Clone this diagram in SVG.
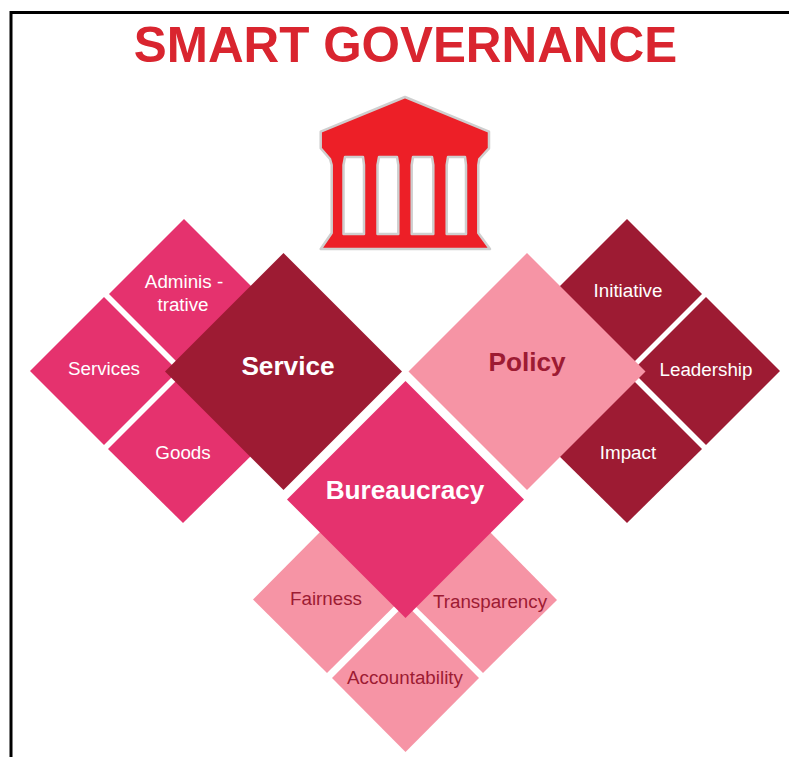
<svg xmlns="http://www.w3.org/2000/svg" width="789" height="757" viewBox="0 0 789 757">
<style>
.a{fill:#e5326e}.b{fill:#9d1b33}.c{fill:#f694a5}
text{font-family:"Liberation Sans",Arial,sans-serif;text-anchor:middle}
.s{font-size:18.800px}.l{font-size:26.200px;font-weight:bold}
.w{fill:#fff}.d{fill:#9d1b33}
</style>
<rect width="789" height="757" fill="#fff"/>
<path d="M11 757V12.500H789" fill="none" stroke="#000" stroke-width="3"/>
<text id="title" x="405.500" y="62" font-size="49.400" font-weight="bold" fill="#d9252f">SMART GOVERNANCE</text>
<g id="temple">
<path d="M405 97L489 131.700V148.300L479.300 159L478.300 165V233L490 249H320.700L331.700 233V165L330 159L320.700 148.300V131.700ZM345 157L343.500 165V234H364V165L363 157ZM379 157L377.500 165V234H398.300V165L397 157ZM413 157L411.700 165V234H433.300V165L432 157ZM448 157L446.700 165V234H466V165L465 157Z" fill="#ed1f27" fill-rule="evenodd" stroke="#cfcfcf" stroke-width="2.500" stroke-linejoin="round"/>
</g>
<g id="connectors"></g>
<g id="administrative"><path class="a" d="M184 219L259 294L184 369L109 294Z"/><text class="s w" x="184" y="288">Adminis -</text><text class="s w" x="183" y="311">trative</text></g>
<g id="services"><path class="a" d="M104 297L178 371L104 445L30 371Z"/><text class="s w" x="104" y="375">Services</text></g>
<g id="goods"><path class="a" d="M183 374L258 449L183 523L108 449Z"/><text class="s w" x="183" y="459">Goods</text></g>
<g id="service"><path class="b" d="M283.500 253L402 371.500L283.500 490L165 371.500Z"/><text class="l w" x="288" y="375">Service</text></g>
<g id="initiative"><path class="b" d="M627 219L702 294L627 369L552 294Z"/><text class="s w" x="628" y="297">Initiative</text></g>
<g id="leadership"><path class="b" d="M706 297L780 371L706 445L632 371Z"/><text class="s w" x="706" y="376">Leadership</text></g>
<g id="impact"><path class="b" d="M627 374L702 449L627 523L552 449Z"/><text class="s w" x="628" y="459">Impact</text></g>
<g id="policy"><path class="c" d="M527 253L645.500 371.500L527 490L408.500 371.500Z"/><text class="l d" x="527" y="371">Policy</text></g>
<g id="fairness"><path class="c" d="M327 525L401 599.500L327 673L253 599.500Z"/><text class="s d" x="326" y="605">Fairness</text></g>
<g id="transparency"><path class="c" d="M483 525L557 600L483 673L409 600Z"/><text class="s d" x="490" y="608">Transparency</text></g>
<g id="accountability"><path class="c" d="M405.500 604L479 678L405.500 752L332 678Z"/><text class="s d" x="405" y="684">Accountability</text></g>
<g id="bureaucracy"><path class="a" d="M405.500 381L524 499.500L405.500 618L287 499.500Z"/><text class="l w" x="405" y="499">Bureaucracy</text></g>
</svg>
